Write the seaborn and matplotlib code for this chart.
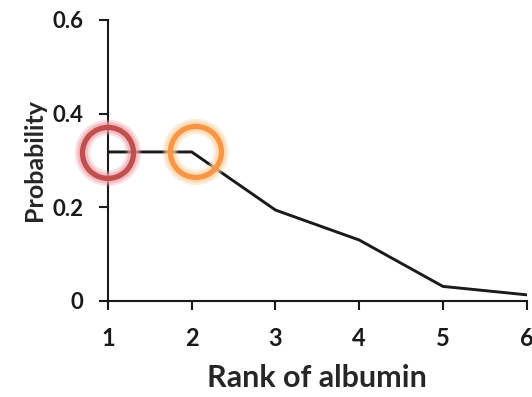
import numpy as np
import pandas as pd
import matplotlib
matplotlib.use("Agg")
import matplotlib.pyplot as plt
import seaborn as sns

rank = [1, 2, 3, 4, 5, 6]
probability = [0.318, 0.318, 0.194, 0.130, 0.031, 0.013]
highlight_rank = [1, 2.05]
highlight_prob = [0.316, 0.318]
ring_colors = ["#C0504D", "#F79646"]
glow_colors = ["#F4A3AC", "#FCD09A"]

sns.set_style("ticks")
plt.rcParams["font.family"] = ["Lato", "DejaVu Sans"]
plt.rcParams["font.weight"] = "bold"

df = pd.DataFrame({"rank": rank, "probability": probability})

fig = plt.figure(figsize=(5.32, 3.97), dpi=100)
ax = fig.add_axes([0.203, 0.242, 0.787, 0.708])

sns.lineplot(data=df, x="rank", y="probability", ax=ax, color="#1a1a1a", linewidth=2.1)

# glowing rings round the top two ranks
for xr, yr, c, g in zip(highlight_rank, highlight_prob, ring_colors, glow_colors):
    ax.scatter([xr], [yr], s=1350, facecolors="none", edgecolors=g, linewidths=11,
               alpha=0.35, clip_on=False, zorder=3)
    ax.scatter([xr], [yr], s=1350, facecolors="none", edgecolors=g, linewidths=7.5,
               alpha=0.6, clip_on=False, zorder=4)
    ax.scatter([xr], [yr], s=1350, facecolors="none", edgecolors=c, linewidths=3.8,
               clip_on=False, zorder=5)

ax.set_xlim(1, 6)
ax.set_ylim(0, 0.6)
ax.set_xticks(rank)
ax.set_yticks([0, 0.2, 0.4, 0.6])
ax.set_yticklabels(["0", "0.2", "0.4", "0.6"])
ax.tick_params(axis="both", width=1.5, length=6.5, colors="#1a1a1a")
ax.tick_params(axis="x", labelsize=17, pad=12)
ax.tick_params(axis="y", labelsize=16, pad=11)
for lab in ax.get_xticklabels() + ax.get_yticklabels():
    lab.set_fontweight("bold")

ax.set_xlabel("Rank of albumin", fontsize=22, fontweight="bold", labelpad=10)
ax.set_ylabel("Probability", fontsize=18, fontweight="bold", labelpad=5)

sns.despine(ax=ax)
for s in ["left", "bottom"]:
    ax.spines[s].set_linewidth(1.5)
    ax.spines[s].set_color("#1a1a1a")

fig.savefig("out.png", dpi=100)
